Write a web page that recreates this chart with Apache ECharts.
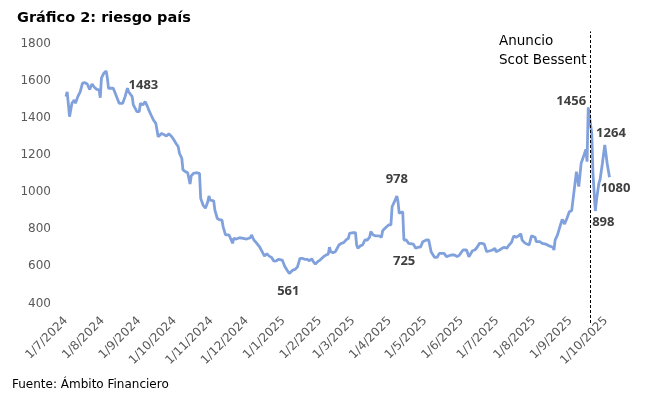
<!DOCTYPE html>
<html>
<head>
<meta charset="utf-8">
<title>Gráfico 2: riesgo país</title>
<script src="https://cdn.jsdelivr.net/npm/echarts@6.0.0/dist/echarts.min.js"></script>
<style>
    html, body { margin: 0; padding: 0; background: #fff; }
    #chart { width: 663px; height: 399px; }
</style>
</head>
<body>
<div id="chart"></div>
<script>
    // riesgo país
    const fechas = [
        '2024-07-01','2024-07-02','2024-07-04','2024-07-06','2024-07-08','2024-07-09','2024-07-11','2024-07-13','2024-07-15','2024-07-17','2024-07-19','2024-07-21','2024-07-23','2024-07-25','2024-07-27','2024-07-29','2024-07-30','2024-07-31',
        '2024-08-02','2024-08-04','2024-08-05','2024-08-06','2024-08-10','2024-08-11','2024-08-13','2024-08-15','2024-08-18','2024-08-20','2024-08-22','2024-08-23','2024-08-24','2024-08-26','2024-08-27','2024-08-30',
        '2024-09-01','2024-09-02','2024-09-04','2024-09-06','2024-09-08','2024-09-09','2024-09-11','2024-09-13','2024-09-15','2024-09-16','2024-09-17','2024-09-20','2024-09-21','2024-09-24','2024-09-26','2024-09-28','2024-09-30',
        '2024-10-02','2024-10-04','2024-10-05','2024-10-07','2024-10-08','2024-10-09','2024-10-10','2024-10-12','2024-10-14','2024-10-15','2024-10-17','2024-10-19','2024-10-22','2024-10-23','2024-10-25','2024-10-27','2024-10-29','2024-10-30','2024-10-31',
        '2024-11-03','2024-11-04','2024-11-06','2024-11-08','2024-11-10','2024-11-11','2024-11-13','2024-11-16','2024-11-17','2024-11-19','2024-11-20','2024-11-22','2024-11-25','2024-11-28',
        '2024-12-01','2024-12-04','2024-12-05','2024-12-07','2024-12-09','2024-12-12','2024-12-14','2024-12-16','2024-12-18','2024-12-20','2024-12-22','2024-12-24','2024-12-26','2024-12-28','2024-12-31',
        '2025-01-02','2025-01-04','2025-01-06','2025-01-07','2025-01-09','2025-01-11','2025-01-13','2025-01-15','2025-01-17','2025-01-19','2025-01-21','2025-01-23','2025-01-25','2025-01-26','2025-01-28','2025-01-30',
        '2025-02-01','2025-02-04','2025-02-06','2025-02-08','2025-02-09','2025-02-10','2025-02-12','2025-02-14','2025-02-16','2025-02-17','2025-02-19','2025-02-21','2025-02-23','2025-02-25','2025-02-26',
        '2025-03-01','2025-03-03','2025-03-04','2025-03-05','2025-03-07','2025-03-09','2025-03-11','2025-03-13','2025-03-15','2025-03-16','2025-03-18','2025-03-20','2025-03-23','2025-03-25','2025-03-26','2025-03-28','2025-03-31',
        '2025-04-02','2025-04-03','2025-04-05','2025-04-07','2025-04-08','2025-04-09','2025-04-10','2025-04-12','2025-04-13','2025-04-14','2025-04-15','2025-04-17','2025-04-21','2025-04-23','2025-04-25','2025-04-27','2025-04-29',
        '2025-05-02','2025-05-04','2025-05-06','2025-05-07','2025-05-09','2025-05-11','2025-05-13','2025-05-17','2025-05-19','2025-05-20','2025-05-23','2025-05-26','2025-05-28','2025-05-30',
        '2025-06-02','2025-06-05','2025-06-07','2025-06-10','2025-06-12','2025-06-14','2025-06-16','2025-06-18','2025-06-20','2025-06-22','2025-06-25','2025-06-27','2025-06-29','2025-06-30',
        '2025-07-03','2025-07-05','2025-07-07','2025-07-09','2025-07-11','2025-07-13','2025-07-15','2025-07-17','2025-07-19','2025-07-21','2025-07-22','2025-07-24','2025-07-26','2025-07-28','2025-07-30','2025-07-31',
        '2025-08-02','2025-08-03','2025-08-06','2025-08-08','2025-08-11','2025-08-14','2025-08-17','2025-08-18','2025-08-19','2025-08-21','2025-08-23','2025-08-25','2025-08-27','2025-08-29','2025-08-31',
        '2025-09-02','2025-09-03','2025-09-06','2025-09-08','2025-09-10','2025-09-12','2025-09-14','2025-09-15','2025-09-16','2025-09-17','2025-09-19','2025-09-20','2025-09-22','2025-09-23','2025-09-25','2025-09-26','2025-09-28','2025-09-30',
        '2025-10-01','2025-10-02','2025-10-04'
    ];
    const valores = [
        1514,1540,1406,1478,1496,1478,1514,1540,1586,1589,1582,1553,1582,1564,1553,1550,1508,1613,
        1640,1652,1614,1559,1559,1550,1510,1478,1478,1514,1559,1540,1540,1514,1469,1433,
        1433,1478,1469,1487,1460,1442,1415,1388,1370,1370,1298,1316,1307,1302,1313,1302,1284,
        1263,1244,1209,1182,1119,1119,1110,1104,1043,1087,1101,1104,1101,966,930,913,948,979,957,
        953,903,859,850,850,813,769,769,764,724,751,747,754,751,
        747,754,769,742,728,703,679,655,668,655,648,628,630,638,634,
        602,580,561,571,580,584,598,643,643,638,638,630,641,628,612,625,
        634,652,661,666,703,679,674,679,703,715,724,728,742,751,778,
        781,781,715,697,710,715,742,742,757,787,769,764,764,757,792,805,823,
        823,921,948,978,948,886,877,894,742,733,742,724,720,697,703,703,733,
        742,742,679,670,648,648,670,670,652,661,661,661,652,661,
        688,688,652,684,688,703,724,724,720,679,684,688,697,679,
        688,697,703,697,715,728,764,757,764,775,742,728,720,715,764,769,
        757,733,733,724,720,710,703,688,742,769,813,853,828,859,894,
        900,903,1110,1030,1155,1191,1230,1164,1456,1451,1316,1101,898,957,1047,1066,1155,1254,
        1264,1155,1080
    ];

    const ticksX = ['2024-07-01','2024-08-01','2024-09-01','2024-10-01','2024-11-01','2024-12-01','2025-01-01',
        '2025-02-01','2025-03-01','2025-04-01','2025-05-01','2025-06-01','2025-07-01','2025-08-01','2025-09-01','2025-10-01'];
    const ticksY = [400, 600, 800, 1000, 1200, 1400, 1600, 1800];

    // etiquetas de valores destacados: [fecha del punto, valor del punto, texto]
    const etiquetas = [
        ['2024-08-22', 1559, '1483'],
        ['2025-04-07', 978, '978'],
        ['2025-04-14', 733, '725'],
        ['2025-01-06', 561, '561'],
        ['2025-09-16', 1456, '1456'],
        ['2025-09-22', 898, '898'],
        ['2025-10-01', 1264, '1264'],
        ['2025-10-04', 1080, '1080']
    ];
    const desplazamientos = [[16, -3], [0, -17], [-1, 20], [-1, 18], [-17, -6], [8, 11], [5, -10], [6, 11]];

    const fechaAnuncio = '2025-09-17';
    const textoAnuncio = 'Anuncio\nScot Bessent';

    function aFecha(s) {
        const p = s.split('-').map(Number);
        return new Date(p[0], p[1] - 1, p[2]).getTime();
    }

    const fuente = '"DejaVu Sans", sans-serif';
    const chart = echarts.init(document.getElementById('chart'));

    const option = {
        backgroundColor: '#fff',
        animation: false,
        title: {
            text: 'Gráfico 2: riesgo país',
            left: 12, top: 6,
            textStyle: { fontFamily: fuente, fontWeight: 'bold', fontSize: 14.5, color: '#000' }
        },
        grid: { left: 66, right: 53.5, top: 31.4, bottom: 76, outerBoundsMode: 'none' },
        // eje de fechas como valor (milisegundos), etiquetas al inicio de cada mes
        xAxis: {
            type: 'value',
            min: aFecha('2024-07-01'),
            max: aFecha('2025-10-04'),
            axisLine: { show: false },
            axisTick: { show: false },
            splitLine: { show: false },
            axisLabel: {
                customValues: ticksX.map(aFecha),
                rotate: 45,
                margin: -4,
                hideOverlap: false,
                color: '#595959',
                fontFamily: fuente,
                fontSize: 12,
                formatter: function (v) {
                    const d = new Date(v);
                    return d.getDate() + '/' + (d.getMonth() + 1) + '/' + d.getFullYear();
                }
            }
        },
        yAxis: {
            type: 'value',
            min: 295, max: 1865,
            axisLine: { show: false },
            axisTick: { show: false },
            splitLine: { show: false },
            axisLabel: {
                customValues: ticksY,
                margin: 15,
                color: '#595959',
                fontFamily: fuente,
                fontSize: 12,
                formatter: function (v) { return String(v); }
            }
        },
        series: [{
            type: 'line',
            data: fechas.map((f, i) => [aFecha(f), valores[i]]),
            showSymbol: false,
            lineStyle: { color: '#81A1DD', width: 2.8 },
            markLine: {
                silent: true,
                symbol: 'none',
                label: { show: false },
                lineStyle: { color: '#000', type: [3, 2], width: 1 },
                data: [{ xAxis: aFecha(fechaAnuncio) + 12 * 3600 * 1000 }]
            },
            markPoint: {
                symbol: 'circle',
                symbolSize: 0,
                silent: true,
                data: etiquetas.map((e, i) => ({
                    coord: [aFecha(e[0]), e[1]],
                    label: {
                        show: true,
                        position: 'inside',
                        offset: desplazamientos[i],
                        formatter: e[2],
                        fontFamily: '"Open Sans", sans-serif',
                        fontWeight: 'bold',
                        fontSize: 13,
                        color: '#404040'
                    }
                }))
            }
        }],
        graphic: [{
            type: 'text',
            left: 499, top: 32,
            style: { text: textoAnuncio, font: '13.5px "DejaVu Sans"', fill: '#000', lineHeight: 19 }
        }, {
            type: 'text',
            left: 12, top: 379,
            style: { text: 'Fuente: Ámbito Financiero', font: '12px "DejaVu Sans"', fill: '#000' }
        }]
    };

    chart.setOption(option);
</script>
</body>
</html>
